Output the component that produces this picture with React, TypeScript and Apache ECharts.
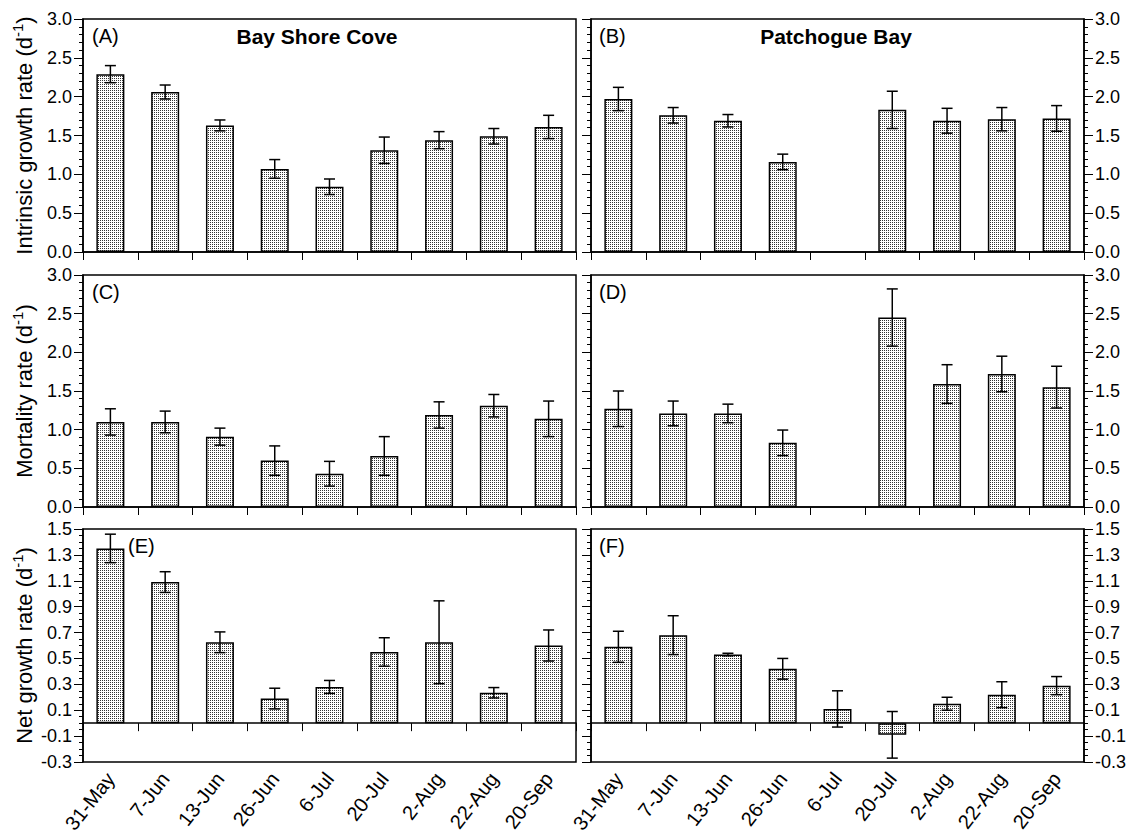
import React, { useEffect, useRef } from 'react';
import * as echarts from 'echarts';

const categories = ['31-May', '7-Jun', '13-Jun', '26-Jun', '6-Jul', '20-Jul', '2-Aug', '22-Aug', '20-Sep'];

const bayShoreIntrinsic = [2.29, 2.06, 1.63, 1.07, 0.84, 1.31, 1.44, 1.49, 1.61];
const bayShoreIntrinsicErr = [0.11, 0.09, 0.07, 0.12, 0.1, 0.17, 0.11, 0.1, 0.15];
const patchogueIntrinsic = [1.97, 1.76, 1.69, 1.16, null, 1.83, 1.69, 1.71, 1.72];
const patchogueIntrinsicErr = [0.15, 0.1, 0.08, 0.1, null, 0.24, 0.16, 0.15, 0.165];

const bayShoreMortality = [1.1, 1.1, 0.91, 0.6, 0.43, 0.66, 1.19, 1.31, 1.14];
const bayShoreMortalityErr = [0.17, 0.14, 0.11, 0.19, 0.16, 0.25, 0.17, 0.145, 0.23];
const patchogueMortality = [1.27, 1.21, 1.21, 0.83, null, 2.45, 1.59, 1.72, 1.55];
const patchogueMortalityErr = [0.23, 0.16, 0.12, 0.165, null, 0.37, 0.25, 0.23, 0.27];

const bayShoreNet = [1.35, 1.09, 0.625, 0.19, 0.28, 0.55, 0.625, 0.235, 0.6];
const bayShoreNetErr = [0.11, 0.08, 0.08, 0.08, 0.05, 0.11, 0.32, 0.04, 0.12];
const patchogueNet = [0.59, 0.68, 0.53, 0.42, 0.11, -0.09, 0.15, 0.22, 0.29];
const patchogueNetErr = [0.12, 0.15, 0.01, 0.08, 0.14, 0.18, 0.05, 0.1, 0.07];

const netTickValues = [-0.3, -0.1, 0.1, 0.3, 0.5, 0.7, 0.9, 1.1, 1.3, 1.5];

const FONT = "'Liberation Sans', Arial, Helvetica, sans-serif";

type Panel = {
  key: string;
  side: 'left' | 'right';
  kind: 'rate' | 'net';
  top: number;
  height: number;
  means: (number | null)[];
  errs: (number | null)[];
  yName?: string;
  showXLabels: boolean;
};

const panels: Panel[] = [
  { key: 'A', side: 'left', kind: 'rate', top: 19, height: 233, means: bayShoreIntrinsic, errs: bayShoreIntrinsicErr, yName: 'Intrinsic growth rate (d', showXLabels: false },
  { key: 'B', side: 'right', kind: 'rate', top: 19, height: 233, means: patchogueIntrinsic, errs: patchogueIntrinsicErr, showXLabels: false },
  { key: 'C', side: 'left', kind: 'rate', top: 275, height: 232, means: bayShoreMortality, errs: bayShoreMortalityErr, yName: 'Mortality rate (d', showXLabels: false },
  { key: 'D', side: 'right', kind: 'rate', top: 275, height: 232, means: patchogueMortality, errs: patchogueMortalityErr, showXLabels: false },
  { key: 'E', side: 'left', kind: 'net', top: 529, height: 233, means: bayShoreNet, errs: bayShoreNetErr, yName: 'Net growth rate (d', showXLabels: true },
  { key: 'F', side: 'right', kind: 'net', top: 529, height: 233, means: patchogueNet, errs: patchogueNetErr, showXLabels: true },
];

function buildOption(pattern: any) {
  const grid: any[] = [];
  const xAxis: any[] = [];
  const yAxis: any[] = [];
  const series: any[] = [];
  const lineStyle = { color: '#000', width: 1.5 };

  panels.forEach((p, gi) => {
    const left = p.side === 'left' ? 83 : 591;
    grid.push({ left, top: p.top, width: 493, height: p.height, show: true, borderColor: '#000', borderWidth: 1.5, containLabel: false });

    const xIdx = xAxis.length;
    xAxis.push({
      type: 'category', gridIndex: gi, data: categories, position: 'bottom',
      axisLine: { show: true, onZero: true, lineStyle },
      axisTick: { show: true, alignWithLabel: false, length: 8, inside: false, lineStyle: { color: '#000', width: 1 } },
      axisLabel: { show: false },
      splitLine: { show: false },
    });
    if (p.showXLabels) {
      xAxis.push({
        type: 'category', gridIndex: gi, data: categories, position: 'bottom',
        axisLine: { show: false, onZero: false },
        axisTick: { show: false },
        axisLabel: { show: true, rotate: 52, fontSize: 20, color: '#000', fontFamily: FONT, margin: 13, interval: 0 },
        splitLine: { show: false },
      });
    }

    const labelSide = p.side;
    const otherSide = p.side === 'left' ? null : 'left';
    const yIdx = yAxis.length;

    const nameOpts = p.yName
      ? {
          name: `{b|${p.yName}}{s|-1}{b|)}`,
          nameLocation: 'middle',
          nameGap: 45,
          nameRotate: 90,
          nameTextStyle: {
            rich: {
              b: { fontSize: 22, lineHeight: 28, fontFamily: FONT, color: '#000' },
              s: { fontSize: 15, lineHeight: 15, verticalAlign: 'top', fontFamily: FONT, color: '#000' },
            },
          },
        }
      : {};

    const sides = otherSide ? [labelSide, otherSide] : [labelSide];
    sides.forEach((side, si) => {
      const showLabels = si === 0;
      if (p.kind === 'rate') {
        yAxis.push({
          type: 'value', gridIndex: gi, position: side, min: 0, max: 3, interval: 0.5,
          axisLine: { show: true, onZero: false, lineStyle },
          axisTick: { show: true, length: 9, inside: false, lineStyle: { color: '#000', width: 1 } },
          minorTick: { show: true, splitNumber: 5, length: 4, lineStyle: { color: '#000', width: 1 } },
          axisLabel: { show: showLabels, formatter: (v: number) => v.toFixed(1), fontSize: 18, color: '#000', fontFamily: FONT, margin: 11 },
          splitLine: { show: false },
          minorSplitLine: { show: false },
          ...(showLabels ? nameOpts : {}),
        });
      } else {
        yAxis.push({
          type: 'value', gridIndex: gi, position: side, min: -0.3, max: 1.5,
          axisLine: { show: true, onZero: false, lineStyle },
          axisTick: { show: true, length: 9, inside: false, customValues: netTickValues, lineStyle: { color: '#000', width: 1 } },
          axisLabel: { show: showLabels, customValues: netTickValues, formatter: (v: number) => v.toFixed(1), fontSize: 18, color: '#000', fontFamily: FONT, margin: 11 },
          splitLine: { show: false },
          ...(showLabels ? nameOpts : {}),
        });
        yAxis.push({
          type: 'value', gridIndex: gi, position: side, min: -0.3, max: 1.5, interval: 0.05,
          axisLine: { show: false, onZero: false },
          axisTick: { show: true, length: 4, inside: false, lineStyle: { color: '#000', width: 1 } },
          axisLabel: { show: false },
          splitLine: { show: false },
        });
      }
    });

    series.push({
      type: 'bar', xAxisIndex: xIdx, yAxisIndex: yIdx, data: p.means, barWidth: 28,
      itemStyle: { color: pattern, borderColor: '#000', borderWidth: 1.5 },
      z: 2,
    });

    const errData: number[][] = [];
    p.means.forEach((m, i) => {
      const e = p.errs[i];
      if (m != null && e != null) errData.push([i, m - e, m + e]);
    });
    series.push({
      type: 'custom', xAxisIndex: xIdx, yAxisIndex: yIdx, data: errData, z: 5,
      encode: { x: 0, y: [1, 2] },
      renderItem: (params: any, api: any) => {
        const x = api.value(0);
        const lo = api.coord([x, api.value(1)]);
        const hi = api.coord([x, api.value(2)]);
        const hw = 5.5;
        const st = { stroke: '#000', lineWidth: 1.5 };
        return {
          type: 'group',
          children: [
            { type: 'line', shape: { x1: lo[0], y1: lo[1], x2: hi[0], y2: hi[1] }, style: st },
            { type: 'line', shape: { x1: lo[0] - hw, y1: lo[1], x2: lo[0] + hw, y2: lo[1] }, style: st },
            { type: 'line', shape: { x1: hi[0] - hw, y1: hi[1], x2: hi[0] + hw, y2: hi[1] }, style: st },
          ],
        };
      },
    });
  });

  const txt = (text: string, x: number, y: number, bold = false, align = 'left', size = 20) => ({
    type: 'text', x, y, z: 10,
    style: { text, fill: '#000', font: `${bold ? 'bold ' : ''}${size}px ${FONT}`, textAlign: align, textVerticalAlign: 'middle' },
  });

  const graphic = [
    txt('(A)', 92, 36),
    txt('Bay Shore Cove', 317, 36, true, 'center', 21),
    txt('(B)', 599, 36),
    txt('Patchogue Bay', 836, 36, true, 'center', 21),
    txt('(C)', 92, 292),
    txt('(D)', 599, 292),
    txt('(E)', 128, 546),
    txt('(F)', 599, 546),
  ];

  return { animation: false, backgroundColor: '#fff', grid, xAxis, yAxis, series, graphic };
}

export default function App() {
  const ref = useRef<HTMLDivElement>(null);
  useEffect(() => {
    if (!ref.current) return;
    const c = document.createElement('canvas');
    c.width = 2;
    c.height = 2;
    const ctx = c.getContext('2d')!;
    ctx.fillStyle = '#ffffff';
    ctx.fillRect(0, 0, 2, 2);
    ctx.fillStyle = '#333333';
    ctx.fillRect(0, 0, 1, 1);
    const pattern = { image: c, repeat: 'repeat', imageWidth: 2, imageHeight: 2 };
    const chart = echarts.init(ref.current, undefined, { renderer: 'svg' });
    chart.setOption(buildOption(pattern) as any);
    return () => chart.dispose();
  }, []);
  return <div ref={ref} style={{ position: 'absolute', left: 0, top: 0, width: 1132, height: 837 }} />;
}
